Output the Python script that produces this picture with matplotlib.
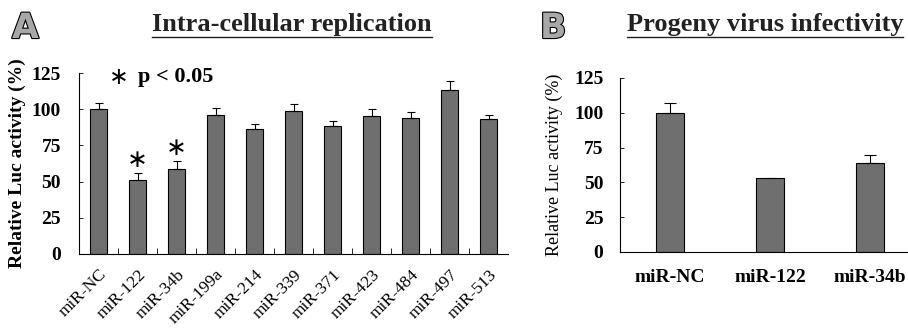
import matplotlib
matplotlib.use("Agg")
import matplotlib.pyplot as plt
import matplotlib.patheffects as pe
from matplotlib.lines import Line2D
import numpy as np

# panel A data
mirs_a = ["miR-NC", "miR-122", "miR-34b", "miR-199a", "miR-214", "miR-339",
          "miR-371", "miR-423", "miR-484", "miR-497", "miR-513"]
vals_a = [100, 51, 59, 96, 86, 99, 88.5, 95, 94, 113, 93]
errs_a = [4, 5, 5, 5, 4, 4.5, 3.5, 5, 4, 6.5, 3]
signif_a = [False, True, True, False, False, False, False, False, False, False, False]

# panel B data
mirs_b = ["miR-NC", "miR-122", "miR-34b"]
vals_b = [100, 53, 64]
errs_b = [7, 0, 6]

yticks = [0, 25, 50, 75, 100, 125]
bar_col = "#6f6f6f"
serif = "Liberation Serif"

W, H = 908, 330
fig = plt.figure(figsize=(W / 100, H / 100), dpi=100)

def px_axes(l, t, r, b):
    return fig.add_axes([l / W, 1 - b / H, (r - l) / W, (b - t) / H])

def style(ax, pad):
    for s in ["top", "right"]:
        ax.spines[s].set_visible(False)
    ax.spines["left"].set_linewidth(0.8)
    ax.spines["bottom"].set_linewidth(0.8)
    ax.set_ylim(0, 125)
    ax.set_yticks(yticks)
    ax.set_yticklabels([str(t) for t in yticks], fontfamily=serif,
                       fontweight="bold", fontsize=14)
    ax.tick_params(axis="y", direction="in", length=3, width=0.6, pad=pad)

# ---- panel A
axA = px_axes(79, 73, 508, 254)
xa = np.arange(len(mirs_a))
axA.bar(xa, vals_a, width=0.42, color=bar_col, edgecolor="black", linewidth=0.8)
axA.errorbar(xa, vals_a, yerr=[np.zeros(len(errs_a)), errs_a], fmt="none",
             ecolor="black", elinewidth=0.8, capsize=3, capthick=0.8)
style(axA, 13)
axA.set_xlim(-0.5, len(mirs_a) - 0.5)
axA.set_xticks(xa)
axA.set_xticklabels(mirs_a, rotation=45, ha="right", va="top",
                    rotation_mode="anchor", fontfamily=serif, fontsize=12.5)
axA.tick_params(axis="x", length=0, pad=9)
axA.set_xticks(xa[:-1] + 0.5, minor=True)
axA.tick_params(axis="x", which="minor", direction="in", length=4, width=0.6)
for i in range(len(mirs_a)):
    if signif_a[i]:
        axA.text(xa[i], vals_a[i] + errs_a[i] + 9, "\u2217", ha="center",
                 va="center", fontsize=18, fontfamily="DejaVu Sans")
axA.text(0.53, 122, "\u2217", ha="center", va="center", fontsize=17,
         fontfamily="DejaVu Sans")
axA.text(1.0, 122, "p < 0.05", ha="left", va="center", fontsize=16,
         fontweight="bold", fontfamily=serif)
axA.set_ylabel("Relative Luc activity (%)", fontfamily=serif, fontweight="bold",
               fontsize=14, labelpad=4)

# ---- panel B
axB = px_axes(620, 78, 908, 252)
xb = np.arange(len(mirs_b))
axB.bar(xb, vals_b, width=0.28, color=bar_col, edgecolor="black", linewidth=0.8)
eb = [e if e > 0 else np.nan for e in errs_b]
axB.errorbar(xb, vals_b, yerr=[np.zeros(len(eb)), eb], fmt="none",
             ecolor="black", elinewidth=0.8, capsize=4, capthick=0.8)
style(axB, 12)
axB.set_xlim(-0.5, 2.38)
axB.set_xticks(xb)
axB.set_xticklabels(mirs_b, fontfamily=serif, fontweight="bold", fontsize=14)
axB.tick_params(axis="x", length=0, pad=12)
axB.set_ylabel("Relative Luc activity (%)", fontfamily=serif,
               fontsize=13, labelpad=8)

# ---- panel letters and underlined titles
for x, lab in [(12, "A"), (540, "B")]:
    fig.text(x / W, 1 - 28 / H, lab, fontsize=25, fontweight="bold",
             fontfamily="DejaVu Sans", color="#a8a8a8", va="center",
             path_effects=[pe.withStroke(linewidth=1.6, foreground="black")])

titles = []
for x, s in [(292, "Intra-cellular replication"), (765, "Progeny virus infectivity")]:
    t = fig.text(x / W, 1 - 24 / H, s, fontsize=19, fontweight="bold",
                 fontfamily=serif, color="#222222", ha="center", va="center")
    titles.append(t)

fig.canvas.draw()
r = fig.canvas.get_renderer()
for t in titles:
    bb = t.get_window_extent(r)
    y = (bb.y0 - 1) / H
    fig.add_artist(Line2D([bb.x0 / W, bb.x1 / W], [y, y], color="#222222",
                          linewidth=1.0, transform=fig.transFigure))

fig.savefig("out.png", dpi=100)
